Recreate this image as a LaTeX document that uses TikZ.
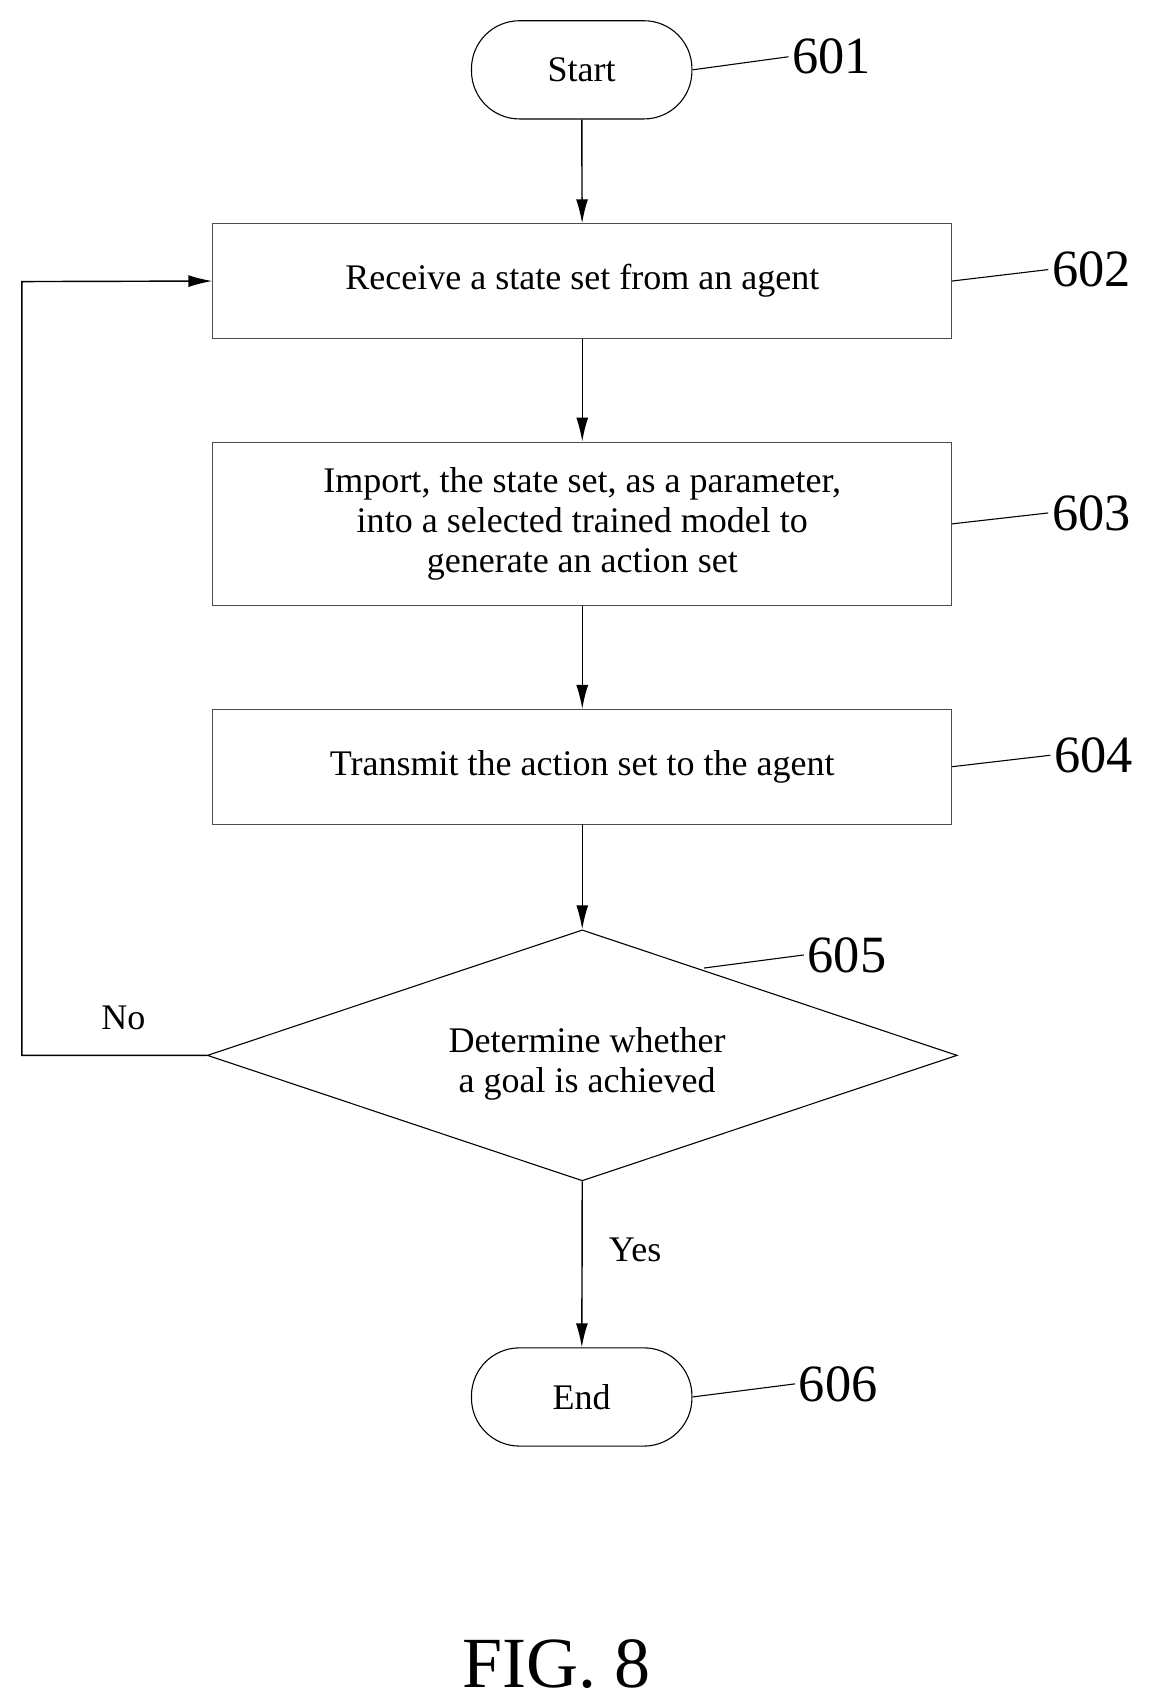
\documentclass[tikz,border=0pt]{standalone}
\usepackage{fontspec}
\setmainfont{Liberation Serif}
\usetikzlibrary{shapes.geometric,arrows.meta}
\begin{document}
\begin{tikzpicture}[x=1pt,y=-1pt,
  txt/.style={font=\fontsize{33}{37}\selectfont},
  box/.style={draw=black!70,line width=0.8pt,minimum width=677pt,txt,align=center,inner sep=0pt},
  term/.style={draw,line width=1pt,rounded corners=44pt,minimum width=202pt,minimum height=90pt,txt},
  num/.style={font=\fontsize{48}{50}\selectfont},
  lead/.style={line width=1pt},
  arr/.style={line width=1.3pt,-{Latex[length=22pt,width=11pt]}}]
\useasboundingbox (0,0) rectangle (1057,1565);
\node[term] (s) at (533,64) {Start};
\node[box,minimum height=105pt] (b2) at (533.5,257.5) {Receive a state set from an agent};
\node[box,minimum height=150pt] (b3) at (533.5,480) {Import, the state set, as a parameter,\\into a selected trained model to\\generate an action set};
\node[box,minimum height=105pt] (b4) at (533.5,702.5) {Transmit the action set to the agent};
\node[draw,line width=1pt,diamond,aspect=2.99,inner sep=0pt,minimum width=687pt,minimum height=230pt,txt,align=center] (d) at (533.5,967) {};
\node[txt,align=center] (dt) at (538,975) {Determine whether\\a goal is achieved};
\node[term] (e) at (533,1280) {End};
\node[num] (n1) at (762,52) {601};
\node[num] (n2) at (1000,247) {602};
\node[num] (n3) at (1000,470) {603};
\node[num] (n4) at (1002,692) {604};
\node[num] (n5) at (776,875) {605};
\node[num] (n6) at (768,1268) {606};
\node[txt] (no) at (113,933) {No};
\node[txt] (yes) at (582,1145) {Yes};
\node[font=\fontsize{66}{70}\selectfont] (fig) at (510,1525) {FIG. 8};
\coordinate (c1) at (20,967);
\coordinate (c2) at (20,258);
\draw[lead] (s.east) -- (n1.west);
\draw[lead] (b2.east) -- (n2.west);
\draw[lead] (b3.east) -- (n3.west);
\draw[lead] (b4.east) -- (n4.west);
\draw[lead] (645,887) -- (n5.west);
\draw[lead] (e.east) -- (n6.west);
\draw[arr] (s) -- (b2);
\draw[arr] (b2) -- (b3);
\draw[arr] (b3) -- (b4);
\draw[arr] (b4) -- (d.north);
\draw[arr] (d.south) -- (e);
\draw[arr] (d.west) -- (c1) -- (c2) -- (b2.west);
\end{tikzpicture}
\end{document}
